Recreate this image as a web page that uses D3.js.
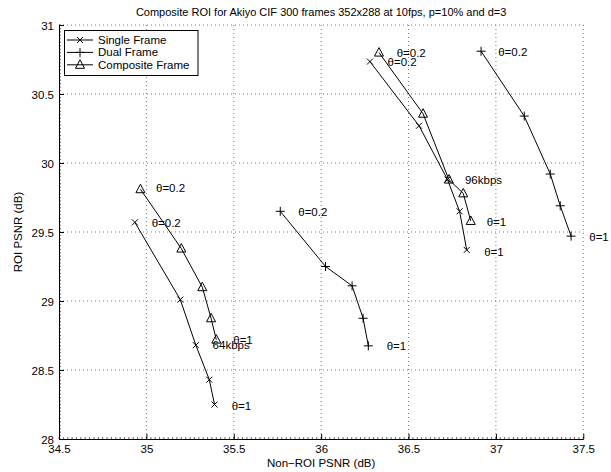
<!DOCTYPE html>
<html>
<head>
<meta charset="utf-8">
<script src="https://cdn.jsdelivr.net/npm/d3@7"></script>
<style>
  body { margin: 0; background: #fff; }
  svg { display: block; font-family: "Liberation Sans", Arial, Helvetica, sans-serif; }
</style>
</head>
<body>
<svg id="chart" width="611" height="472"></svg>
<script>
// values
const title = 'Composite ROI for Akiyo CIF 300 frames 352x288 at 10fps, p=10% and d=3';
const xTicks = [34.5, 35, 35.5, 36, 36.5, 37, 37.5];
const yTicks = [28, 28.5, 29, 29.5, 30, 30.5, 31];

// Single Frame (x markers), low and high rate
const singleLowX = [34.934, 35.194, 35.283, 35.36, 35.39];
const singleLowY = [29.57, 29.01, 28.68, 28.43, 28.25];
const singleHighX = [36.279, 36.56, 36.723, 36.792, 36.833];
const singleHighY = [30.735, 30.27, 29.88, 29.65, 29.37];

// Dual Frame (+ markers)
const dualLowX = [35.766, 36.025, 36.177, 36.24, 36.27];
const dualLowY = [29.65, 29.25, 29.11, 28.875, 28.675];
const dualHighX = [36.915, 37.162, 37.311, 37.368, 37.43];
const dualHighY = [30.81, 30.34, 29.92, 29.69, 29.47];

// Composite Frame (triangles)
const compLowX = [34.966, 35.2, 35.32, 35.37, 35.4];
const compLowY = [29.81, 29.38, 29.1, 28.875, 28.72];
const compHighX = [36.331, 36.583, 36.731, 36.813, 36.856];
const compHighY = [30.8, 30.357, 29.88, 29.78, 29.58];

// text annotations: [text, x, y] (left edge, vertical middle)
const notes = [
  ['θ=0.2', 35.055, 29.817], ['θ=0.2', 35.03, 29.563],
  ['θ=1', 35.497, 28.717], ['64kbps', 35.379, 28.68], ['θ=1', 35.488, 28.24],
  ['θ=0.2', 35.869, 29.647], ['θ=1', 36.375, 28.674],
  ['θ=0.2', 36.432, 30.795], ['θ=0.2', 36.38, 30.73],
  ['96kbps', 36.823, 29.877], ['θ=1', 36.947, 29.57], ['θ=1', 36.933, 29.357],
  ['θ=0.2', 37.013, 30.806], ['θ=1', 37.534, 29.466]
];

const legendNames = ['Single Frame', 'Dual Frame', 'Composite Frame'];

const zip = (xs, ys) => xs.map((x, i) => [x, ys[i]]);
const series = [
  { marker: 'x', pts: zip(singleLowX, singleLowY) },
  { marker: 'x', pts: zip(singleHighX, singleHighY) },
  { marker: '+', pts: zip(dualLowX, dualLowY) },
  { marker: '+', pts: zip(dualHighX, dualHighY) },
  { marker: 'tri', pts: zip(compLowX, compLowY) },
  { marker: 'tri', pts: zip(compHighX, compHighY) }
];

const svg = d3.select('#chart');
const plotL = 59, plotR = 583.3, plotT = 25, plotB = 439;

const x = d3.scaleLinear().domain([34.5, 37.5]).range([plotL, plotR]);
const y = d3.scaleLinear().domain([28, 31]).range([plotB, plotT]);

// dotted grid
const grid = svg.append('g')
  .attr('stroke', '#555')
  .attr('stroke-width', 0.8)
  .attr('stroke-dasharray', '1,3');
grid.selectAll('.gx').data(xTicks.slice(1)).enter().append('line')
  .attr('x1', d => x(d)).attr('x2', d => x(d))
  .attr('y1', plotT).attr('y2', plotB);
grid.selectAll('.gy').data(yTicks.slice(1)).enter().append('line')
  .attr('x1', plotL).attr('x2', plotR)
  .attr('y1', d => y(d)).attr('y2', d => y(d));

// axes, ticks pointing inward
const xAxis = svg.append('g')
  .attr('transform', `translate(0,${plotB})`)
  .call(d3.axisBottom(x).tickValues(xTicks).tickSizeInner(-5).tickSizeOuter(0)
    .tickFormat(d3.format('')));
const yAxis = svg.append('g')
  .attr('transform', `translate(${plotL},0)`)
  .call(d3.axisLeft(y).tickValues(yTicks).tickSizeInner(-5).tickSizeOuter(0)
    .tickFormat(d3.format('')));

// small minor ticks
const minor = svg.append('g').attr('stroke', '#000').attr('stroke-width', 0.6);
minor.selectAll('.mx').data(d3.range(34.5, 37.5001, 0.025)).enter().append('line')
  .attr('x1', d => x(d)).attr('x2', d => x(d))
  .attr('y1', plotB).attr('y2', plotB - 2);
minor.selectAll('.my').data(d3.range(28, 31.0001, 0.025)).enter().append('line')
  .attr('x1', plotL).attr('x2', plotL + 2)
  .attr('y1', d => y(d)).attr('y2', d => y(d));

[xAxis, yAxis].forEach(a => {
  a.select('.domain').attr('stroke', '#000');
  a.selectAll('.tick line').attr('stroke', '#000');
  a.selectAll('.tick text')
    .attr('fill', '#000')
    .style('font-size', '11.5px')
    .style('font-family', '"Liberation Sans", Arial, Helvetica, sans-serif');
});
xAxis.selectAll('.tick text').attr('y', 4).attr('dy', '0.85em');
yAxis.selectAll('.tick text').attr('x', -5).attr('dy', '0.35em');

// lines
const line = d3.line().x(d => x(d[0])).y(d => y(d[1]));
svg.append('g').selectAll('path').data(series).enter().append('path')
  .attr('d', d => line(d.pts))
  .attr('fill', 'none')
  .attr('stroke', '#000')
  .attr('stroke-width', 1);

function drawMarker(g, type, cx, cy) {
  if (type === 'x') {
    g.append('path').attr('d', `M${cx - 3},${cy - 3}L${cx + 3},${cy + 3}M${cx - 3},${cy + 3}L${cx + 3},${cy - 3}`);
  } else if (type === '+') {
    g.append('path').attr('d', `M${cx - 4.5},${cy}L${cx + 4.5},${cy}M${cx},${cy - 4.5}L${cx},${cy + 4.5}`);
  } else {
    g.append('path').attr('d', `M${cx},${cy - 5}L${cx + 4.5},${cy + 3.5}L${cx - 4.5},${cy + 3.5}Z`)
      .attr('fill', 'none');
  }
}

const marks = svg.append('g').attr('stroke', '#000').attr('stroke-width', 1).attr('fill', 'none');
series.forEach(s => s.pts.forEach(p => drawMarker(marks, s.marker, x(p[0]), y(p[1]))));

// annotations
svg.append('g').selectAll('text').data(notes).enter().append('text')
  .attr('x', d => x(d[1]))
  .attr('y', d => y(d[2]))
  .attr('dy', '0.35em')
  .style('font-size', '11.5px')
  .text(d => d[0]);

// title and axis labels
svg.append('text')
  .attr('x', (plotL + plotR) / 2).attr('y', 16)
  .attr('text-anchor', 'middle')
  .style('font-size', '11px')
  .text(title);
svg.append('text')
  .attr('x', (plotL + plotR) / 2).attr('y', 467)
  .attr('text-anchor', 'middle')
  .style('font-size', '11.5px')
  .text('Non\u2212ROI PSNR (dB)');
svg.append('text')
  .attr('transform', `translate(22,${(plotT + plotB) / 2}) rotate(-90)`)
  .attr('text-anchor', 'middle')
  .style('font-size', '11.5px')
  .text('ROI PSNR (dB)');

// legend
const lg = svg.append('g');
lg.append('rect')
  .attr('x', 64.5).attr('y', 30.5).attr('width', 133.5).attr('height', 45)
  .attr('fill', '#fff').attr('stroke', '#000').attr('stroke-width', 1);
const legendMarkers = ['x', '+', 'tri'];
legendNames.forEach((name, i) => {
  const ly = 40 + i * 12.4;
  lg.append('line').attr('x1', 67).attr('x2', 93).attr('y1', ly).attr('y2', ly)
    .attr('stroke', '#000').attr('stroke-width', 1);
  const mg = lg.append('g').attr('stroke', '#000').attr('fill', 'none');
  drawMarker(mg, legendMarkers[i], 80, ly);
  lg.append('text').attr('x', 98).attr('y', ly).attr('dy', '0.35em')
    .style('font-size', '11.5px').text(name);
});
</script>
</body>
</html>
